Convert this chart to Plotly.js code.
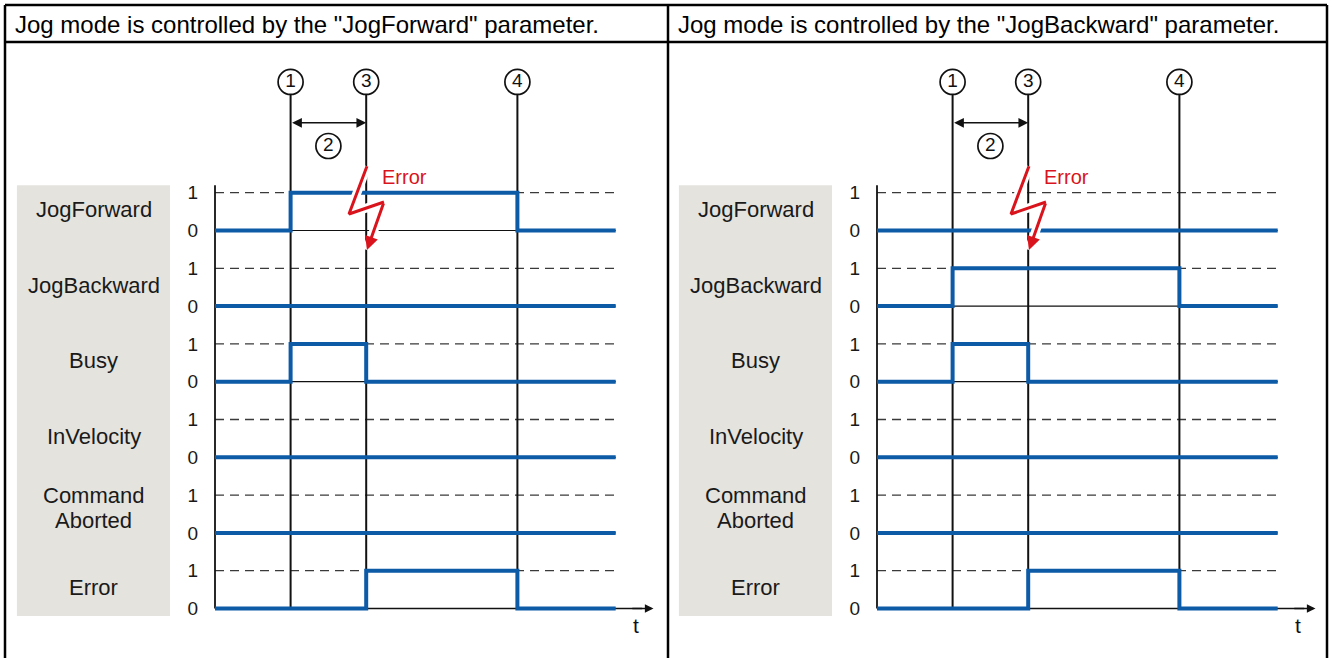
<!DOCTYPE html>
<html>
<head>
<meta charset="utf-8">
<script src="https://cdn.plot.ly/plotly-3.0.1.min.js"></script>
<style>
  html, body { margin: 0; padding: 0; background: #fff; }
  #chart { width: 1332px; height: 658px; }
</style>
</head>
<body>
<div id="chart"></div>
<script>
// rows of the timing diagram and the times where states change (start, 1, 3, 4, end)
const signalNames = ['JogForward', 'JogBackward', 'Busy', 'InVelocity', 'Command<br>Aborted', 'Error'];
const edgeTimes = [0, 2, 4, 8, 10.6];

// left diagram: jog via JogForward (state per interval)
const fwdJogForward = [0, 1, 1, 0];
const fwdJogBackward = [0, 0, 0, 0];
const fwdBusy = [0, 1, 0, 0];
const fwdInVelocity = [0, 0, 0, 0];
const fwdCommandAborted = [0, 0, 0, 0];
const fwdError = [0, 0, 1, 0];

// right diagram: jog via JogBackward
const bwdJogForward = [0, 0, 0, 0];
const bwdJogBackward = [0, 1, 1, 0];
const bwdBusy = [0, 1, 0, 0];
const bwdInVelocity = [0, 0, 0, 0];
const bwdCommandAborted = [0, 0, 0, 0];
const bwdError = [0, 0, 1, 0];

// numbered event markers
const markerTimes = [2, 4, 8];
const markerLabels = ['1', '3', '4'];
const spanLabel = '2';

// error flash (zigzag) and its arrow tip
const flashT = [4.02, 3.545, 4.47];
const flashY = [1.70, 0.437, 0.754];
const flashTip = [4.02, -0.516];

const panelTitles = [
    'Jog mode is controlled by the "JogForward" parameter.',
    'Jog mode is controlled by the "JogBackward" parameter.'
];

// ---- geometry ----
const W = 1332, H = 658;
const U = 37.8;            // px per time unit / per level
const level1Px = 192.7;    // pixel row of the first "1" level
const originPx = [215, 877];
const panelLeftPx = [0, 666];
const endT = edgeTimes[edgeTimes.length - 1];
const circleY = 3.93, spanY = 2.85, spanCircleY = 2.235;
const labelGap = 25 / U;   // line spacing of two-line row labels
const blue = '#0d5aa7';
const font = 'Liberation Sans, Arial, sans-serif';

const panels = [
    [fwdJogForward, fwdJogBackward, fwdBusy, fwdInVelocity, fwdCommandAborted, fwdError],
    [bwdJogForward, bwdJogBackward, bwdBusy, bwdInVelocity, bwdCommandAborted, bwdError]
];

const yRange = [1 - (H - level1Px) / U, 1 + level1Px / U];
const tickVals = [], tickText = [];
signalNames.forEach((s, i) => {
    tickVals.push(1 - 2 * i, -2 * i);
    tickText.push('1', '0');
});

const traces = [];
const shapes = [];
const annotations = [];

panels.forEach((rows, p) => {
    const xa = p === 0 ? 'x' : 'x2';
    const ya = p === 0 ? 'y' : 'y2';

    // gray label box
    shapes.push({type: 'rect', xref: xa, yref: ya, x0: -5.24, x1: -1.19, y0: -10.2, y1: 1.2,
        fillcolor: '#e4e3de', line: {width: 0}, layer: 'below'});

    // dashed "1" levels and thin "0" baselines
    signalNames.forEach((s, i) => {
        shapes.push({type: 'line', xref: xa, yref: ya, x0: 0, x1: endT, y0: 1 - 2 * i, y1: 1 - 2 * i,
            line: {color: '#3a3a3a', width: 1.3, dash: '9px,6px'}, layer: 'below'});
        if (i < signalNames.length - 1) {
            shapes.push({type: 'line', xref: xa, yref: ya, x0: 0, x1: endT, y0: -2 * i, y1: -2 * i,
                line: {color: '#111', width: 1.2}, layer: 'below'});
        }
    });

    // time axis line and value axis line
    shapes.push({type: 'line', xref: xa, yref: ya, x0: 0, x1: 11.3, y0: -10, y1: -10,
        line: {color: '#111', width: 1.5}, layer: 'below'});
    shapes.push({type: 'line', xref: xa, yref: ya, x0: 0, x1: 0, y0: -10, y1: 1.2,
        line: {color: '#111', width: 1.8}, layer: 'below'});

    // event marker lines
    markerTimes.forEach(t => {
        shapes.push({type: 'line', xref: xa, yref: ya, x0: t, x1: t, y0: -10, y1: circleY - 0.3,
            line: {color: '#111', width: 2}, layer: 'below'});
    });

    // signal traces
    rows.forEach((vals, i) => {
        traces.push({
            x: edgeTimes,
            y: vals.concat([vals[vals.length - 1]]).map(v => v - 2 * i),
            xaxis: xa, yaxis: ya,
            mode: 'lines', line: {shape: 'hv', color: blue, width: 4},
            hoverinfo: 'skip', showlegend: false
        });
    });

    // error flash: white halo then red zigzag
    const fx = flashT.concat([flashTip[0]]);
    const fy = flashY.concat([flashTip[1]]);
    traces.push({x: fx, y: fy, xaxis: xa, yaxis: ya, mode: 'lines',
        line: {color: '#fff', width: 9}, hoverinfo: 'skip', showlegend: false});
    traces.push({x: flashT, y: flashY, xaxis: xa, yaxis: ya, mode: 'lines',
        line: {color: '#d9141c', width: 3}, hoverinfo: 'skip', showlegend: false});
    annotations.push({xref: xa, yref: ya, axref: xa, ayref: ya,
        x: flashTip[0], y: flashTip[1], ax: flashT[2], ay: flashY[2], text: '',
        showarrow: true, arrowhead: 2, arrowsize: 0.9, arrowwidth: 3, arrowcolor: '#d9141c'});
    annotations.push({xref: xa, yref: ya, x: 5.0, y: 1.415, text: 'Error', showarrow: false,
        font: {family: font, size: 20, color: '#d9141c'}});

    // numbered circles
    traces.push({
        x: markerTimes.concat([(markerTimes[0] + markerTimes[1]) / 2]),
        y: markerTimes.map(() => circleY).concat([spanCircleY]),
        xaxis: xa, yaxis: ya, mode: 'markers+text',
        marker: {size: 25, color: '#fff', line: {color: '#111', width: 1.7}},
        text: markerLabels.concat([spanLabel]), textposition: 'middle center',
        textfont: {family: font, size: 19, color: '#111'},
        hoverinfo: 'skip', showlegend: false, cliponaxis: false
    });

    // span arrow between markers 1 and 3
    annotations.push({xref: xa, yref: ya, axref: xa, ayref: ya,
        x: markerTimes[1], y: spanY, ax: markerTimes[0], ay: spanY, text: '',
        showarrow: true, arrowside: 'end+start', arrowhead: 2, arrowsize: 1.3,
        arrowwidth: 1.5, arrowcolor: '#111'});

    // time axis arrowhead and label
    annotations.push({xref: xa, yref: ya, axref: xa, ayref: ya,
        x: 11.6, y: -10, ax: 11.0, ay: -10, text: '',
        showarrow: true, arrowhead: 2, arrowsize: 1.15, arrowwidth: 1.5, arrowcolor: '#111'});
    annotations.push({xref: xa, yref: ya, x: 11.14, y: -10.44, text: 't', showarrow: false,
        font: {family: font, size: 21, color: '#111'}});

    // row labels (two-line labels get a tighter line spacing)
    signalNames.forEach((s, i) => {
        const lines = s.split('<br>');
        const mid = 0.55 - 2 * i + (lines.length > 1 ? 0.1 : 0);
        lines.forEach((txt, k) => {
            annotations.push({xref: xa, yref: ya, x: -3.21,
                y: mid + ((lines.length - 1) / 2 - k) * labelGap,
                text: txt, showarrow: false,
                font: {family: font, size: 22, color: '#1a1a1a'}});
        });
    });

    // header text
    annotations.push({xref: 'paper', yref: 'paper', x: (panelLeftPx[p] + (p === 0 ? 13 : 10)) / W,
        y: 1 - 24 / H, xanchor: 'left', yanchor: 'middle', text: panelTitles[p], showarrow: false,
        font: {family: font, size: 24, color: '#000'}});
});

// table borders
const px = v => v / W, py = v => 1 - v / H;
const border = {color: '#000', width: 2.5};
[[5, 5, 1327, 5], [5, 42, 1327, 42], [5, 5, 5, 660], [668, 5, 668, 660], [1327, 5, 1327, 660]]
    .forEach(([x0, y0, x1, y1]) => {
        shapes.push({type: 'line', xref: 'paper', yref: 'paper',
            x0: px(x0), y0: py(y0), x1: px(x1), y1: py(y1), line: border});
    });

const yAxisBase = {
    domain: [0, 1], range: yRange, anchor: 'free',
    tickmode: 'array', tickvals: tickVals, ticktext: tickText,
    ticks: 'outside', ticklen: 13, tickcolor: 'rgba(0,0,0,0)',
    showgrid: false, zeroline: false, showline: false, fixedrange: true,
    tickfont: {family: font, size: 19, color: '#1a1a1a'}
};

const layout = {
    width: W, height: H,
    margin: {l: 0, r: 0, t: 0, b: 0},
    paper_bgcolor: '#fff', plot_bgcolor: 'rgba(0,0,0,0)',
    showlegend: false,
    xaxis: {domain: [0, 0.5], range: [-(originPx[0] - panelLeftPx[0]) / U, (666 - originPx[0]) / U],
        visible: false, fixedrange: true},
    xaxis2: {domain: [0.5, 1], range: [-(originPx[1] - panelLeftPx[1]) / U, (W - originPx[1]) / U],
        visible: false, fixedrange: true},
    yaxis: Object.assign({}, yAxisBase, {position: originPx[0] / W}),
    yaxis2: Object.assign({}, yAxisBase, {position: originPx[1] / W}),
    shapes: shapes,
    annotations: annotations
};

Plotly.newPlot('chart', traces, layout, {displayModeBar: false, staticPlot: true});
</script>
</body>
</html>
